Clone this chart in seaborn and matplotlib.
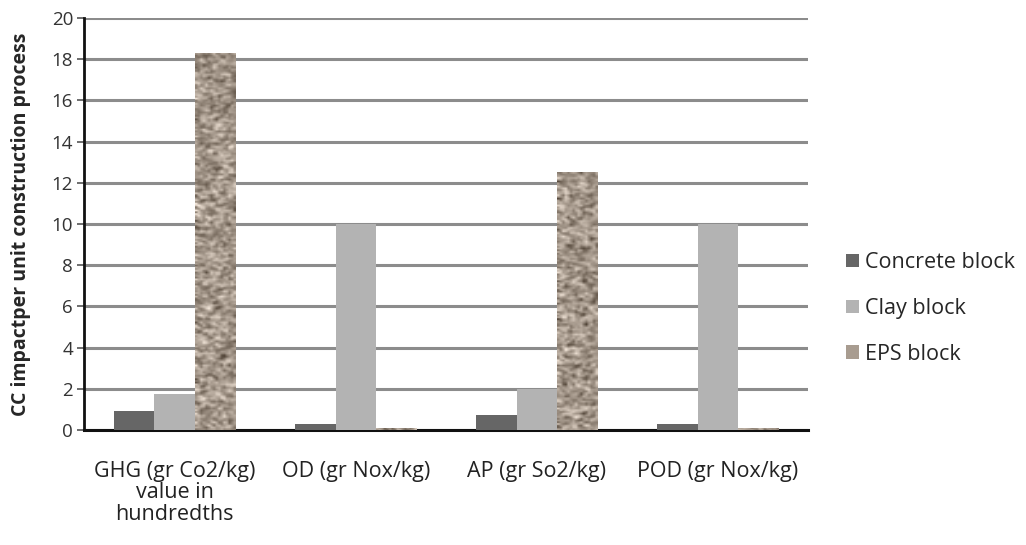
import numpy as np
import pandas as pd
import matplotlib
matplotlib.use("Agg")
import matplotlib.pyplot as plt
import seaborn as sns

categories = ["GHG (gr Co2/kg)\nvalue in\nhundredths", "OD (gr Nox/kg)", "AP (gr So2/kg)", "POD (gr Nox/kg)"]
series = ["Concrete block", "Clay block", "EPS block"]
concrete = [0.9, 0.3, 0.75, 0.3]
clay = [1.75, 10.0, 2.0, 10.0]
eps = [18.3, 0.1, 12.5, 0.1]
y_ticks = [0, 2, 4, 6, 8, 10, 12, 14, 16, 18, 20]

df = pd.DataFrame({
    "category": categories * 3,
    "material": [series[0]] * 4 + [series[1]] * 4 + [series[2]] * 4,
    "value": concrete + clay + eps,
})

sns.set_theme(style="white")
plt.rcParams["font.family"] = ["Open Sans", "DejaVu Sans"]

fig = plt.figure(figsize=(10.26, 5.45), dpi=100)
ax = fig.add_axes([0.082, 0.211, 0.706, 0.756])

palette = {"Concrete block": "#666666", "Clay block": "#b3b3b3", "EPS block": "#a89c90"}
sns.barplot(data=df, x="category", y="value", hue="material", palette=palette,
            width=0.67, saturation=1, ax=ax, legend=True, zorder=3, linewidth=0)

# granular stone-like texture on the EPS bars
rng = np.random.default_rng(7)
eps_color = np.array([0.64, 0.59, 0.54])
for patch in ax.containers[2]:
    x0, y0 = patch.get_x(), patch.get_y()
    w, h = patch.get_width(), patch.get_height()
    if h <= 0:
        continue
    ny = max(2, int(h * 12))
    noise = rng.normal(0, 1, (ny, 16))
    sm = noise.copy()
    sm[1:, 1:] = (noise[1:, 1:] + noise[:-1, 1:] + noise[1:, :-1] + noise[:-1, :-1]) / 2.5
    img = np.clip(eps_color[None, None, :] + 0.12 * sm[..., None], 0, 1)
    im = ax.imshow(img, extent=[x0, x0 + w, y0, y0 + h], aspect="auto",
                   interpolation="bilinear", zorder=4)
    im.set_clip_path(patch)

ax.set_xlim(-0.5, 3.5)
ax.set_ylim(0, 20)
ax.set_yticks(y_ticks)
ax.set_yticklabels([str(t) for t in y_ticks], fontsize=13.5, color="#333333")
ax.set_xlabel("")
ax.set_ylabel("CC impactper unit construction process", fontsize=14, fontweight="bold")
ax.yaxis.set_label_coords(-0.074, 0.5)
ax.tick_params(axis="x", length=0, labelsize=15.5, pad=22, colors="#222222")
ax.tick_params(axis="y", left=True, length=5, width=1.2, color="#555555", pad=3)
for lbl in ax.get_xticklabels():
    lbl.set_linespacing(1.05)

ax.yaxis.grid(True, color="#8c8c8c", linewidth=2.2, zorder=0)
ax.set_axisbelow(True)
for s in ["top", "right"]:
    ax.spines[s].set_visible(False)
ax.spines["left"].set_color("#111111")
ax.spines["left"].set_linewidth(2)
ax.spines["bottom"].set_color("#111111")
ax.spines["bottom"].set_linewidth(2.2)

handles, labels = ax.get_legend_handles_labels()
leg = ax.legend(handles, labels, loc="center left", bbox_to_anchor=(1.025, 0.295),
                frameon=False, fontsize=15.5, handlelength=0.6, handleheight=0.6,
                handletextpad=0.3, labelspacing=1.15)

fig.savefig("out.png", dpi=100)
